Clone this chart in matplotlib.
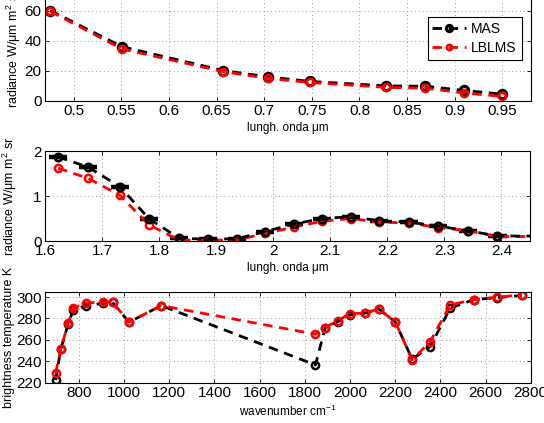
import matplotlib
matplotlib.use("Agg")
import matplotlib.pyplot as plt
from matplotlib.ticker import FuncFormatter
import numpy as np

plt.rcParams['font.family'] = ['Liberation Sans', 'DejaVu Sans']
plt.rcParams['mathtext.default'] = 'regular'

# ---- Panel 1: visible channels ----
wl1 = [0.4755, 0.551, 0.657, 0.704, 0.748, 0.828, 0.869, 0.910, 0.950]
mas1 = [60.0, 36.0, 20.2, 16.0, 13.0, 10.0, 9.8, 7.0, 4.5]
lbl1 = [59.5, 34.5, 19.5, 15.0, 12.3, 9.0, 8.5, 5.3, 3.0]

# ---- Panel 2: SWIR channels ----
wl2 = [1.623, 1.676, 1.731, 1.782, 1.835, 1.886, 1.936, 1.986, 2.037, 2.086,
       2.136, 2.186, 2.238, 2.289, 2.341, 2.393, 2.49]
mas2 = [1.87, 1.64, 1.21, 0.50, 0.06, 0.04, 0.05, 0.21, 0.38, 0.50,
        0.54, 0.45, 0.42, 0.33, 0.23, 0.11, 0.11]
lbl2 = [1.62, 1.39, 1.02, 0.36, 0.02, 0.02, 0.02, 0.17, 0.31, 0.44,
        0.50, 0.42, 0.40, 0.30, 0.23, 0.10, 0.10]
xerr2 = 0.016

# ---- Panel 3: thermal channels ----
wn3 = [697, 720, 753, 775, 831, 905, 949, 1022, 1165, 1847, 1890, 1946, 2001,
       2068, 2127, 2201, 2275, 2355, 2444, 2547, 2653, 2761]
mas3 = [222.5, 251.6, 275.0, 288.0, 292.0, 294.0, 295.0, 276.6, 292.0, 236.6,
        271.0, 277.0, 283.5, 285.0, 289.0, 276.6, 242.0, 253.7, 289.7, 297.5,
        299.5, 301.5]
lbl3 = [228.8, 251.6, 276.0, 290.0, 294.4, 295.5, 295.3, 276.6, 292.0, 265.3,
        271.3, 278.0, 284.5, 285.0, 289.0, 276.6, 241.3, 258.4, 292.8, 297.5,
        300.0, 302.0]

W, H = 544, 423
fig = plt.figure(figsize=(W / 100, H / 100), dpi=100)

def pos(l, t, r, b):
    return [l / W, 1 - b / H, (r - l) / W, (b - t) / H]

ax1 = fig.add_axes(pos(45, -4.5, 531, 101))
ax2 = fig.add_axes(pos(45, 151, 530, 241))
ax3 = fig.add_axes(pos(45, 291.7, 530.7, 382.7))

red = '#ff0000'
dash = (3.4, 2.4)
lw = 2.0
ms = 5.2
mew = 1.8

def style(ax):
    ax.tick_params(direction='in', top=True, right=True, length=3,
                   width=0.6, labelsize=11, pad=2.5)
    ax.grid(True, linestyle=(0, (1, 3)), color='#999999', linewidth=0.7)
    for s in ax.spines.values():
        s.set_linewidth(0.8)

gfmt = FuncFormatter(lambda v, p: ('%g' % round(v, 6)))

# Panel 1
l_mas, = ax1.plot(wl1, mas1, color='k', lw=lw, dashes=dash, marker='o',
                  ms=ms + 0.8, mfc='none', mec='k', mew=2.2, label='MAS')
l_lbl, = ax1.plot(wl1, lbl1, color=red, lw=lw, dashes=dash, marker='o',
                  ms=ms, mfc='none', mec=red, mew=mew, label='LBLMS')
ax1.set_xlim(0.47, 0.98)
ax1.set_ylim(0, 70)
ax1.set_xticks(np.arange(0.5, 0.951, 0.05))
ax1.set_yticks([0, 20, 40, 60])
ax1.xaxis.set_major_formatter(gfmt)
style(ax1)
ax1.set_xlabel('lungh. onda μm', fontsize=8.5, labelpad=2.5)
ax1.set_ylabel('radiance W/μm m$^2$ sr', fontsize=9, labelpad=1)
leg = ax1.legend(handles=[l_mas, l_lbl], loc='upper right',
                 bbox_to_anchor=(0.995, 0.86), fontsize=10, frameon=True,
                 fancybox=False, edgecolor='k', handlelength=2.4,
                 borderpad=0.35, labelspacing=0.35, handletextpad=0.4,
                 markerscale=0.75, framealpha=1)
leg.get_frame().set_linewidth(0.8)

# Panel 2
ax2.errorbar(wl2, mas2, xerr=xerr2, color='k', lw=lw, dashes=dash,
             marker='o', ms=ms, mfc='none', mec='k', mew=2.0,
             elinewidth=3.2, ecolor='k', capsize=0)
ax2.plot(wl2, lbl2, color=red, lw=lw, dashes=dash, marker='o', ms=ms,
         mfc='none', mec=red, mew=mew)
ax2.set_xlim(1.6, 2.45)
ax2.set_ylim(0, 2)
ax2.set_xticks(np.arange(1.6, 2.41, 0.1))
ax2.set_yticks([0, 1, 2])
ax2.xaxis.set_major_formatter(gfmt)
ax2.yaxis.set_major_formatter(gfmt)
style(ax2)
ax2.set_xlabel('lungh. onda μm', fontsize=8.5, labelpad=2.5)
ax2.set_ylabel('radiance W/μm m$^2$ sr', fontsize=9, labelpad=10)

# Panel 3
ax3.plot(wn3, mas3, color='k', lw=lw, dashes=dash, marker='o', ms=ms,
         mfc='none', mec='k', mew=mew)
ax3.plot(wn3, lbl3, color=red, lw=lw, dashes=dash, marker='o', ms=ms,
         mfc='none', mec=red, mew=mew)
ax3.set_xlim(650, 2800)
ax3.set_ylim(220, 305)
ax3.set_xticks(np.arange(800, 2801, 200))
ax3.set_yticks(np.arange(220, 301, 20))
style(ax3)
ax3.set_xlabel('wavenumber cm$^{-1}$', fontsize=8.5, labelpad=2.5)
ax3.set_ylabel('brightness temperature K', fontsize=9, labelpad=1)

fig.savefig('out.png', dpi=100)
